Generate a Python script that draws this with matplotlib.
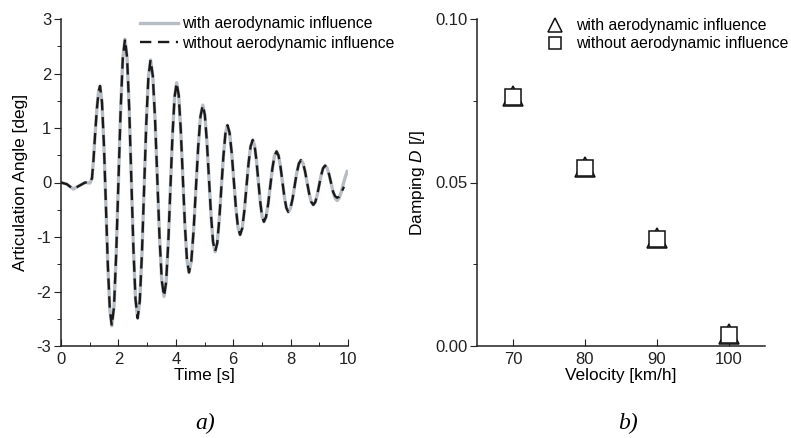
import matplotlib
matplotlib.use('Agg')
import matplotlib.pyplot as plt

plt.rcParams['font.family'] = ['Liberation Sans', 'DejaVu Sans']
plt.rcParams['axes.unicode_minus'] = False
plt.rcParams['mathtext.fontset'] = 'custom'
plt.rcParams['mathtext.it'] = 'Liberation Sans:italic'
plt.rcParams['mathtext.rm'] = 'Liberation Sans'

# a) articulation angle over time (values read off the picture)
time = [0.0, 0.2, 0.43, 0.6, 0.84, 1.01,
        1.08, 1.13, 1.19, 1.25, 1.31, 1.36,
        1.428, 1.497, 1.565, 1.633, 1.702, 1.77,
        1.847, 1.923, 2.0, 2.077, 2.153, 2.23,
        2.303, 2.377, 2.45, 2.523, 2.597, 2.67,
        2.745, 2.82, 2.895, 2.97, 3.045, 3.12,
        3.198, 3.277, 3.355, 3.433, 3.512, 3.59,
        3.663, 3.737, 3.81, 3.883, 3.957, 4.03,
        4.102, 4.173, 4.245, 4.317, 4.388, 4.46,
        4.54, 4.62, 4.70, 4.78, 4.86, 4.94,
        5.012, 5.083, 5.155, 5.227, 5.298, 5.37,
        5.442, 5.513, 5.585, 5.657, 5.728, 5.80,
        5.873, 5.947, 6.02, 6.093, 6.167, 6.24,
        6.313, 6.387, 6.46, 6.533, 6.607, 6.68,
        6.745, 6.81, 6.875, 6.94, 7.005, 7.07,
        7.143, 7.217, 7.29, 7.363, 7.437, 7.51,
        7.578, 7.647, 7.715, 7.783, 7.852, 7.92,
        7.993, 8.067, 8.14, 8.213, 8.287, 8.36,
        8.432, 8.503, 8.575, 8.647, 8.718, 8.79,
        8.858, 8.927, 8.995, 9.063, 9.132, 9.20,
        9.27, 9.34, 9.41, 9.48, 9.55, 9.62,
        9.69, 9.76, 9.83, 9.90, 9.97]

angle_with = [0.0, -0.03, -0.12, -0.07, 0.0, -0.01,
              0.08, 0.4, 0.9, 1.35, 1.67, 1.77,
              1.475, 0.67, -0.43, -1.53, -2.335, -2.63,
              -2.278, -1.315, 0.0, 1.315, 2.278, 2.63,
              2.287, 1.35, 0.07, -1.21, -2.147, -2.49,
              -2.172, -1.305, -0.12, 1.065, 1.932, 2.25,
              1.959, 1.165, 0.08, -1.005, -1.799, -2.09,
              -1.827, -1.11, -0.13, 0.85, 1.567, 1.83,
              1.597, 0.96, 0.09, -0.78, -1.417, -1.65,
              -1.444, -0.883, -0.115, 0.653, 1.214, 1.42,
              1.24, 0.748, 0.075, -0.598, -1.09, -1.27,
              -1.115, -0.69, -0.11, 0.47, 0.895, 1.05,
              0.915, 0.548, 0.045, -0.458, -0.825, -0.96,
              -0.843, -0.525, -0.09, 0.345, 0.663, 0.78,
              0.68, 0.405, 0.03, -0.345, -0.62, -0.72,
              -0.634, -0.398, -0.075, 0.248, 0.484, 0.57,
              0.496, 0.293, 0.015, -0.263, -0.466, -0.54,
              -0.476, -0.303, -0.065, 0.173, 0.346, 0.41,
              0.355, 0.205, 0.0, -0.205, -0.355, -0.41,
              -0.362, -0.23, -0.05, 0.13, 0.262, 0.31,
              0.267, 0.15, -0.01, -0.17, -0.287, -0.33,
              -0.29, -0.18, -0.04, 0.09, 0.2]

# without aerodynamic influence: same as above up to t = 9.48, then its own tail
time_without_tail = [9.55, 9.62, 9.69, 9.76, 9.83, 9.86]
angle_without_tail = [-0.25, -0.28, -0.26, -0.19, -0.11, -0.08]

# b) damping over velocity
velocity = [70, 80, 90, 100]
damping_with = [0.0765, 0.0548, 0.0330, 0.0037]
damping_without = [0.0761, 0.0544, 0.0327, 0.0034]

n_common = time.index(9.48) + 1
time_without = time[:n_common] + time_without_tail
angle_without = angle_with[:n_common] + angle_without_tail

fig = plt.figure(figsize=(7.91, 4.38), dpi=100)
ax1 = fig.add_axes([61 / 791, 92 / 438, 287 / 791, 327 / 438])
ax2 = fig.add_axes([477 / 791, 92 / 438, 288 / 791, 327 / 438])

gray = '#b6bdc4'
ax1.plot(time, angle_with, color=gray, lw=2.4, label='with aerodynamic influence')
ax1.plot(time_without, angle_without, color='#1a1a1a', lw=1.7, dashes=(4.8, 2.8),
         label='without aerodynamic influence')
ax1.set_xlim(0, 10)
ax1.set_ylim(-3, 3)
ax1.set_xticks([0, 2, 4, 6, 8, 10])
ax1.set_xticks([1, 3, 5, 7, 9], minor=True)
ax1.set_yticks([-3, -2, -1, 0, 1, 2, 3])
ax1.set_yticks([-2.5, -1.5, -0.5, 0.5, 1.5, 2.5], minor=True)
ax1.set_xlabel('Time [s]', fontsize=12.4, labelpad=1)
ax1.set_ylabel('Articulation Angle [deg]', fontsize=12.4, labelpad=6)
ax1.legend(loc='upper left', bbox_to_anchor=(140 / 791, 1 - 16 / 438),
           bbox_transform=fig.transFigure, frameon=False, fontsize=11.3,
           handlelength=2.4, handletextpad=0.25, labelspacing=0.3, borderpad=0,
           borderaxespad=0)

ax2.plot(velocity, damping_with, ls='none', marker='^', ms=14, mfc='white',
         mec='#111111', mew=1.1, label='with aerodynamic influence')
ax2.plot(velocity, damping_without, ls='none', marker='s', ms=11, mfc='white',
         mec='#111111', mew=1.1, label='without aerodynamic influence')
ax2.set_xlim(65, 105)
ax2.set_ylim(0, 0.10)
ax2.set_xticks([70, 80, 90, 100])
ax2.set_yticks([0.0, 0.05, 0.10])
ax2.set_yticks([0.025, 0.075], minor=True)
ax2.set_yticklabels(['0.00', '0.05', '0.10'])
ax2.set_xlabel('Velocity [km/h]', fontsize=12.4, labelpad=1)
ax2.set_ylabel('Damping $D$ [/]', fontsize=12.4, labelpad=6)
ax2.legend(loc='upper left', bbox_to_anchor=(542 / 791, 1 - 18 / 438),
           bbox_transform=fig.transFigure, frameon=False, fontsize=11.3,
           markerscale=0.75, handlelength=1.6, handletextpad=0.6, labelspacing=0.2,
           borderpad=0, borderaxespad=0)

for ax in (ax1, ax2):
    for side in ('top', 'right'):
        ax.spines[side].set_visible(False)
    for side in ('left', 'bottom'):
        ax.spines[side].set_color('#222222')
        ax.spines[side].set_linewidth(1.1)
    ax.tick_params(axis='both', labelsize=12, colors='#222222')
    ax.tick_params(axis='x', which='both', direction='in', pad=4)
    ax.tick_params(axis='x', which='major', length=5)
    ax.tick_params(axis='x', which='minor', length=3)
    ax.tick_params(axis='y', which='major', direction='out', length=5, pad=2)
    ax.tick_params(axis='y', which='minor', direction='out', length=3)

fig.text(205 / 791, 1 - 423 / 438, 'a)', fontsize=17, style='italic',
         family='Liberation Serif', ha='center', va='center')
fig.text(628 / 791, 1 - 423 / 438, 'b)', fontsize=17, style='italic',
         family='Liberation Serif', ha='center', va='center')

fig.savefig('out.png', dpi=100)
